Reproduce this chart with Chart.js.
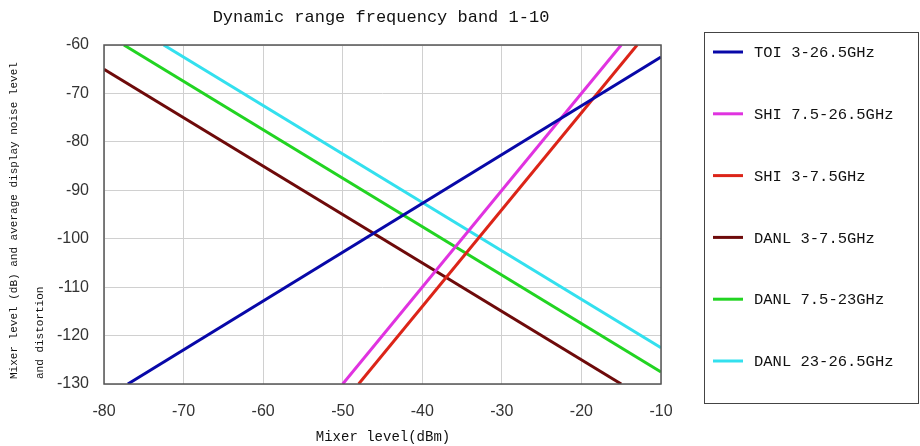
<!DOCTYPE html>
<html>
<head>
<meta charset="utf-8">
<script src="https://cdn.jsdelivr.net/npm/chart.js@4"></script>
<style>
  html, body { margin: 0; padding: 0; background: #fff; }
  #wrap { width: 920px; height: 446px; }
</style>
</head>
<body>
<div id="wrap"><canvas id="miGrafico" width="920" height="446"></canvas></div>
<script>
// values (x = mixer level dBm, y = level dB)
const seriesNames = ['TOI 3-26.5GHz', 'SHI 7.5-26.5GHz', 'SHI 3-7.5GHz', 'DANL 3-7.5GHz', 'DANL 7.5-23GHz', 'DANL 23-26.5GHz'];
const toiX = [-77, -10];     const toiY = [-130, -62.5];
const shiHiX = [-50, -15];   const shiHiY = [-130, -60];
const shiLoX = [-48, -13];   const shiLoY = [-130, -60];
const danlLoX = [-80, -15];  const danlLoY = [-65, -130];
const danlMidX = [-77.5, -10]; const danlMidY = [-60, -127.5];
const danlHiX = [-72.5, -10];  const danlHiY = [-60, -122.5];
const xTicks = [-80, -70, -60, -50, -40, -30, -20, -10];
const yTicks = [-60, -70, -80, -90, -100, -110, -120, -130];

const colores = ['#0808a8', '#e033e0', '#dc2418', '#6e0a0a', '#22d422', '#33e0ee'];
const allX = [toiX, shiHiX, shiLoX, danlLoX, danlMidX, danlHiX];
const allY = [toiY, shiHiY, shiLoY, danlLoY, danlMidY, danlHiY];

const mono = '"Liberation Mono", "DejaVu Sans Mono", monospace';

const datasets = seriesNames.map((name, i) => ({
    label: name,
    data: allX[i].map((x, j) => ({ x: x, y: allY[i][j] })),
    showLine: true,
    borderColor: colores[i],
    backgroundColor: colores[i],
    borderWidth: 3,
    pointRadius: 0,
    fill: false
}));

// title, y title, border and legend box drawn by hand
const decoPlugin = {
    id: 'deco',
    afterDraw(chart) {
        const ctx = chart.ctx;
        const a = chart.chartArea;
        ctx.save();
        // plot frame
        ctx.strokeStyle = '#555';
        ctx.lineWidth = 1.5;
        ctx.strokeRect(a.left, a.top, a.right - a.left, a.bottom - a.top);

        // title
        ctx.fillStyle = '#111';
        ctx.font = '17px ' + mono;
        ctx.textAlign = 'center';
        ctx.textBaseline = 'middle';
        ctx.fillText('Dynamic range frequency band 1-10', 381, 17);

        // x title
        ctx.font = '14px ' + mono;
        ctx.fillText('Mixer level(dBm)', 383, 437);

        // y title (two lines, bottom aligned)
        ctx.font = '11px ' + mono;
        ctx.textAlign = 'left';
        ctx.translate(14, 379);
        ctx.rotate(-Math.PI / 2);
        ctx.fillText('Mixer level (dB) and average display noise level', 0, 0);
        ctx.fillText('and distortion', 0, 26);
        ctx.restore();

        // legend box
        ctx.save();
        ctx.strokeStyle = '#444';
        ctx.lineWidth = 1;
        ctx.strokeRect(704.5, 32.5, 214, 371);
        ctx.font = '15.5px ' + mono;
        ctx.textBaseline = 'middle';
        ctx.textAlign = 'left';
        chart.data.datasets.forEach((ds, i) => {
            const y = 52 + i * 61.8;
            ctx.strokeStyle = ds.borderColor;
            ctx.lineWidth = 3;
            ctx.beginPath();
            ctx.moveTo(713, y);
            ctx.lineTo(743, y);
            ctx.stroke();
            ctx.fillStyle = '#111';
            ctx.fillText(ds.label, 754, y + 1);
        });
        ctx.restore();
    }
};

var ctx = document.getElementById('miGrafico').getContext('2d');
var myChart = new Chart(ctx, {
    type: 'scatter',
    data: { datasets: datasets },
    plugins: [decoPlugin],
    options: {
        responsive: false,
        animation: false,
        layout: { padding: { left: 0, top: 45, right: 259, bottom: 0 } },
        plugins: {
            legend: { display: false },
            title: { display: false },
            tooltip: { enabled: false }
        },
        scales: {
            x: {
                type: 'linear',
                min: -80,
                max: -10,
                afterBuildTicks: (s) => { s.ticks = xTicks.map(v => ({ value: v })); },
                afterFit: (s) => { s.height = 62; },
                ticks: {
                    color: '#333',
                    font: { family: '"Liberation Sans", Arial, sans-serif', size: 16 },
                    padding: 18
                },
                grid: { color: '#d0d0d0', lineWidth: 1, drawTicks: false },
                border: { display: false }
            },
            y: {
                type: 'linear',
                min: -130,
                max: -60,
                afterBuildTicks: (s) => { s.ticks = yTicks.map(v => ({ value: v })); },
                afterFit: (s) => { s.width = 104; },
                ticks: {
                    color: '#333',
                    font: { family: '"Liberation Sans", Arial, sans-serif', size: 16 },
                    padding: 15
                },
                grid: { color: '#d0d0d0', lineWidth: 1, drawTicks: false },
                border: { display: false }
            }
        }
    }
});
</script>
</body>
</html>
